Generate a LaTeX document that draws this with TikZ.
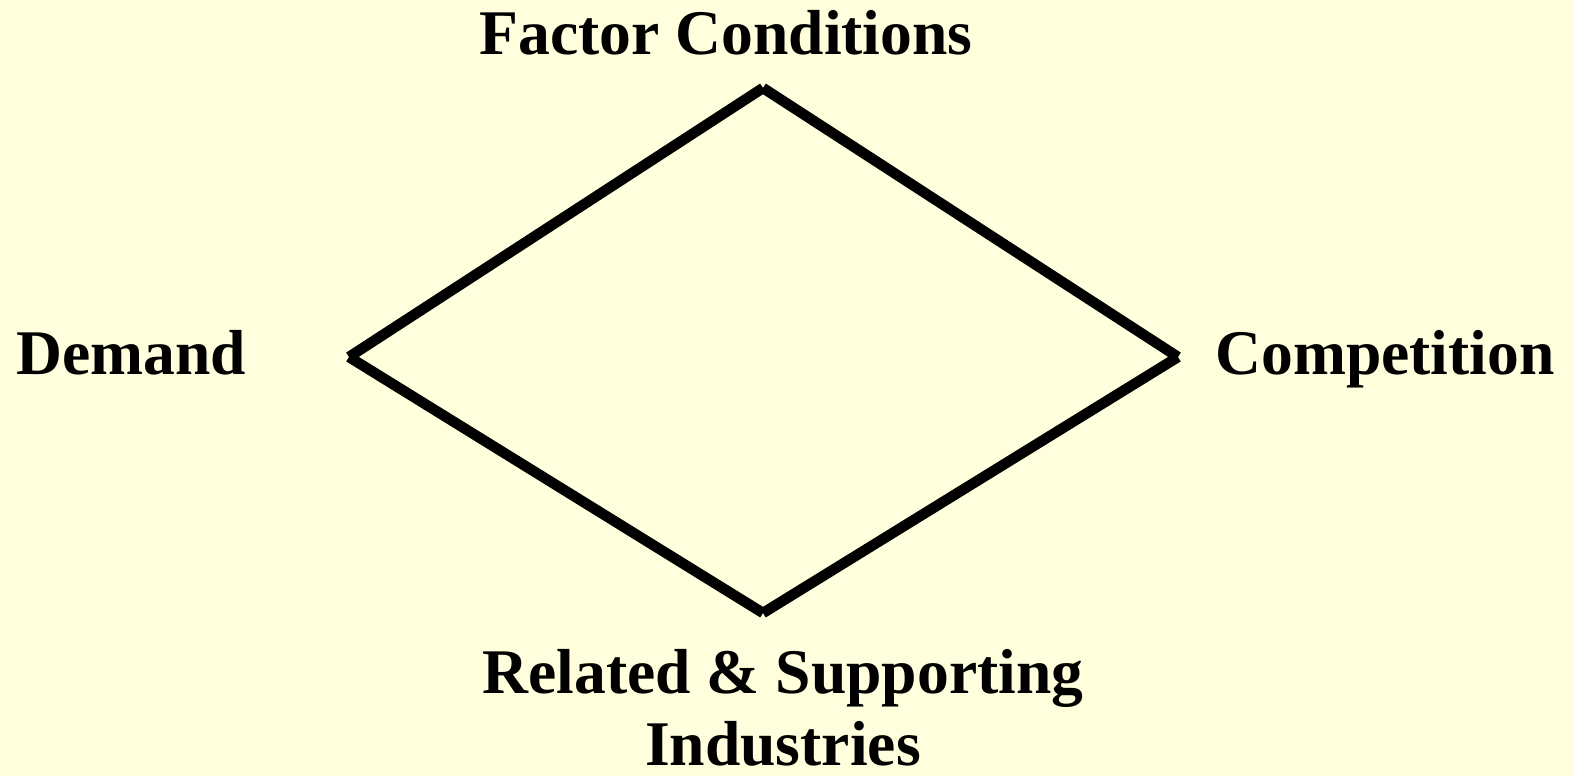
\documentclass[tikz,border=0pt]{standalone}
\usepackage{fontspec}
\setmainfont{Liberation Serif}
\definecolor{bgyellow}{RGB}{255,255,221}
\begin{document}
\begin{tikzpicture}[x=1pt,y=1pt,
  lbl/.style={inner sep=0pt,font=\fontsize{63.6}{72}\selectfont\bfseries,text=black},
  edge/.style={line width=10.5pt,line cap=butt,black}]
\fill[bgyellow] (0,0) rectangle (1573,776);
\useasboundingbox (0,0) rectangle (1573,776);
\coordinate (T) at (763,688);
\coordinate (L) at (349,419);
\coordinate (R) at (1178,419);
\coordinate (B) at (763,163);
\draw[edge] (T) -- (L);
\draw[edge] (T) -- (R);
\draw[edge] (L) -- (B);
\draw[edge] (R) -- (B);
\node[lbl,anchor=base] (fc) at (726,721) {Factor Conditions};
\node[lbl,anchor=base] (dm) at (131,401) {Demand};
\node[lbl,anchor=base] (cp) at (1385,401) {Competition};
\node[lbl,anchor=base,align=center] (rs) at (783,11) {Related \& Supporting\\Industries};
\end{tikzpicture}
\end{document}
